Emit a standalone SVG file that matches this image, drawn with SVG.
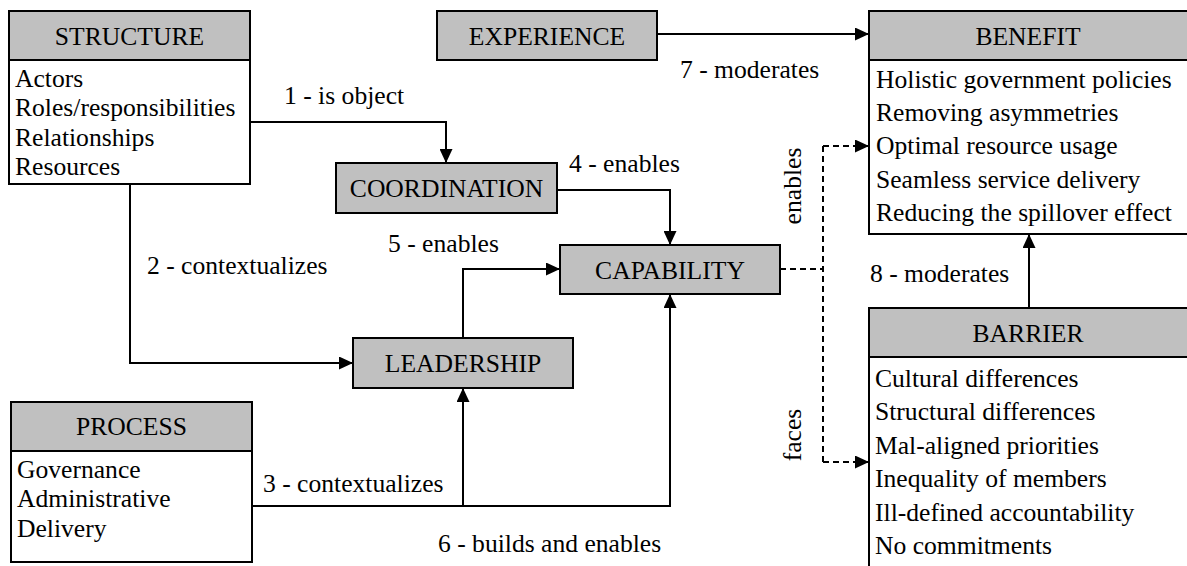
<svg xmlns="http://www.w3.org/2000/svg" width="1187" height="566" viewBox="0 0 1187 566" font-family="Liberation Serif, DejaVu Serif, serif">
  <style>
    text { font-family: 'Liberation Serif', 'DejaVu Serif', serif; font-size: 25.6px; fill: #000; }
    .hdr { text-anchor: middle; }
    .box { fill: #fff; stroke: #000; stroke-width: 2; }
    .head { fill: #c0c0c0; stroke: #000; stroke-width: 2; }
    .conn { fill: none; stroke: #000; stroke-width: 2; }
    .dash { fill: none; stroke: #000; stroke-width: 2; stroke-dasharray: 6 4; }
  </style>
  <defs>
    <marker id="arrow" markerUnits="userSpaceOnUse" markerWidth="14" markerHeight="13" refX="14" refY="6.5" orient="auto">
      <path d="M0,0 L14,6.5 L0,13 z" fill="#000"/>
    </marker>
  </defs>
  <rect width="1187" height="566" fill="#fff"/>

  <g id="connectors">
    <path class="conn" d="M250,122 H446 V163" marker-end="url(#arrow)"/>
    <path class="conn" d="M130,184 V363 H353" marker-end="url(#arrow)"/>
    <path class="conn" d="M252,506 H670 V294" marker-end="url(#arrow)"/>
    <path class="conn" d="M463,506 V388" marker-end="url(#arrow)"/>
    <path class="conn" d="M557,190 H670 V245" marker-end="url(#arrow)"/>
    <path class="conn" d="M463,338 V269 H560" marker-end="url(#arrow)"/>
    <path class="conn" d="M657,34 H869" marker-end="url(#arrow)"/>
    <path class="conn" d="M1029,308 V234" marker-end="url(#arrow)"/>
    <path class="dash" d="M780,269 H823"/>
    <path class="dash" d="M823,146 V462"/>
    <path class="dash" d="M823,146 H869" marker-end="url(#arrow)"/>
    <path class="dash" d="M823,462 H869" marker-end="url(#arrow)"/>
    <text x="284" y="104">1 - is object</text>
    <text x="147" y="274">2 - contextualizes</text>
    <text x="263" y="492">3 - contextualizes</text>
    <text x="569" y="172">4 - enables</text>
    <text x="388" y="252">5 - enables</text>
    <text x="438" y="552">6 - builds and enables</text>
    <text x="680" y="78">7 - moderates</text>
    <text x="870" y="282">8 - moderates</text>
    <text x="801" y="186" text-anchor="middle" transform="rotate(-90 801 186)">enables</text>
    <text x="801" y="435" text-anchor="middle" transform="rotate(-90 801 435)">faces</text>
  </g>

  <g id="structure">
    <rect class="box" x="9" y="11" width="241" height="173"/>
    <rect class="head" x="9" y="11" width="241" height="49"/>
    <text class="hdr" x="129.5" y="45">STRUCTURE</text>
    <text x="15" y="87">Actors</text>
    <text x="15" y="116">Roles/responsibilities</text>
    <text x="15" y="146">Relationships</text>
    <text x="15" y="175">Resources</text>
  </g>

  <g id="experience">
    <rect class="head" x="437" y="11" width="220" height="49"/>
    <text class="hdr" x="547" y="45">EXPERIENCE</text>
  </g>

  <g id="coordination">
    <rect class="head" x="336" y="163" width="221" height="50"/>
    <text class="hdr" x="446.5" y="197">COORDINATION</text>
  </g>

  <g id="capability">
    <rect class="head" x="560" y="245" width="220" height="49"/>
    <text class="hdr" x="670" y="279">CAPABILITY</text>
  </g>

  <g id="leadership">
    <rect class="head" x="353" y="338" width="220" height="50"/>
    <text class="hdr" x="463" y="372">LEADERSHIP</text>
  </g>

  <g id="process">
    <rect class="box" x="11" y="402" width="241" height="160"/>
    <rect class="head" x="11" y="402" width="241" height="49"/>
    <text class="hdr" x="131.5" y="435">PROCESS</text>
    <text x="17" y="478">Governance</text>
    <text x="17" y="507">Administrative</text>
    <text x="17" y="537">Delivery</text>
  </g>

  <g id="benefit">
    <rect class="box" x="869" y="11" width="330" height="223"/>
    <rect class="head" x="869" y="11" width="330" height="49"/>
    <text class="hdr" x="1028" y="45">BENEFIT</text>
    <text x="876" y="88">Holistic government policies</text>
    <text x="876" y="121">Removing asymmetries</text>
    <text x="876" y="154">Optimal resource usage</text>
    <text x="876" y="188">Seamless service delivery</text>
    <text x="876" y="221">Reducing the spillover effect</text>
  </g>

  <g id="barrier">
    <rect class="box" x="869" y="308" width="330" height="280"/>
    <rect class="head" x="869" y="308" width="330" height="49"/>
    <text class="hdr" x="1028" y="342">BARRIER</text>
    <text x="875" y="387">Cultural differences</text>
    <text x="875" y="420">Structural differences</text>
    <text x="875" y="454">Mal-aligned priorities</text>
    <text x="875" y="487">Inequality of members</text>
    <text x="875" y="521">Ill-defined accountability</text>
    <text x="875" y="554">No commitments</text>
  </g>
</svg>
